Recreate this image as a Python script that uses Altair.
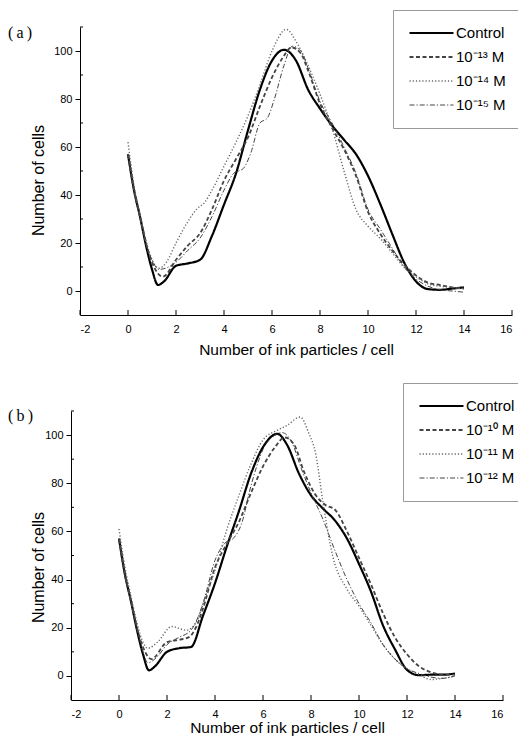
import altair as alt
import pandas as pd

# ---------------- data ----------------
# Panel (a)
A_CTRL_X = [0, 0.25, 0.5, 0.75, 1.0, 1.25, 1.5, 2.0, 2.5, 3.0, 3.5, 4.0, 4.5, 5.0, 5.5, 6.0, 6.5, 7.0, 7.5, 8.0, 8.5, 9.0, 9.5, 10.0, 10.5, 11.0, 11.5, 12.0, 12.5, 13.0, 13.5, 14.0]
A_CTRL_Y = [57, 42, 31, 19, 9, 2.5, 4, 10.5, 11.5, 13, 23, 36, 49, 67, 84, 96, 100.5, 96, 84, 76, 69, 63, 57, 48, 36.5, 24, 12, 4, 0.8, 0.5, 1, 1.5]

A_13_X = [0, 0.25, 0.5, 0.75, 1.0, 1.45, 2.0, 2.5, 3.0, 3.5, 4.0, 4.5, 5.0, 5.5, 6.0, 6.5, 6.8, 7.2, 7.5, 8.0, 8.5, 9.0, 9.5, 10.0, 10.5, 11.0, 11.5, 12.0, 12.5, 13.0, 13.5, 14.0]
A_13_Y = [57, 42, 31, 20, 12, 6, 13, 19, 24, 34, 46, 55, 64, 77, 89, 98, 101.5, 99, 92, 78, 68, 59, 48, 33, 24, 17, 11, 6.5, 3.5, 2.5, 1.5, 1]

A_14_X = [0, 0.25, 0.5, 0.75, 1.0, 1.3, 1.6, 2.0, 2.5, 2.85, 3.2, 3.5, 4.0, 4.5, 5.0, 5.5, 6.0, 6.6, 7.0, 7.5, 8.0, 8.5, 9.0, 9.5, 10.0, 10.5, 11.0, 11.5, 12.0, 12.5, 13.0, 13.5, 14.0]
A_14_Y = [62, 44, 32, 21, 13, 9.5, 12, 20, 29, 34, 37, 42, 52, 62, 73, 86, 100, 109, 104, 94, 82, 68, 50, 34, 27, 22, 16, 10, 6, 3, 2, 1.5, 1]

A_15_X = [0, 0.25, 0.5, 0.75, 1.0, 1.3, 2.0, 2.5, 3.0, 3.5, 4.0, 4.4, 4.8, 5.1, 5.5, 5.8, 6.1, 6.5, 6.85, 7.2, 7.5, 8.0, 8.5, 9.0, 9.5, 10.0, 10.5, 11.0, 11.5, 12.0, 12.5, 13.0, 13.5, 14.0]
A_15_Y = [57, 42, 31, 20, 13, 9, 12, 17, 22, 31, 42, 49, 51, 57, 70, 72, 80, 94, 102, 100, 93, 79, 70, 60, 49, 34, 26, 18, 10, 5, 2, 0.5, 0, -0.5]

# Panel (b)
B_CTRL_X = [0, 0.25, 0.5, 0.75, 1.0, 1.25, 1.5, 2.0, 2.5, 3.0, 3.5, 4.0, 4.5, 5.0, 5.5, 6.0, 6.6, 7.0, 7.5, 8.0, 8.5, 9.0, 9.5, 10.0, 10.5, 11.0, 11.5, 12.0, 12.5, 13.0, 13.5, 14.0]
B_CTRL_Y = [57, 42, 31, 19, 9, 2.3, 4, 10, 11.5, 12, 25, 38.5, 54, 68.5, 84, 95, 100.5, 96, 84, 75, 69.5, 64.5, 57, 46.5, 35, 21, 11, 2.5, 0.3, 0.5, 0.5, 1]

B_10_X = [0, 0.25, 0.5, 0.75, 1.0, 1.35, 2.0, 2.5, 2.9, 3.2, 3.5, 4.0, 4.5, 5.0, 5.5, 6.0, 6.5, 6.9, 7.3, 7.7, 8.2, 8.6, 9.0, 9.5, 10.0, 10.5, 11.0, 11.5, 12.0, 12.5, 13.0, 13.5, 14.0]
B_10_Y = [57, 42, 31, 20, 12, 7, 14, 15, 16, 20, 28, 45, 55, 64, 76, 87, 95, 99, 96, 85, 75, 71, 69, 60, 49, 38, 26, 16, 9, 4, 1.5, 0.5, 0.5]

B_11_X = [0, 0.25, 0.5, 0.75, 1.0, 1.2, 1.6, 2.2, 2.8, 3.2, 3.6, 4.0, 4.5, 5.0, 5.5, 6.0, 6.6, 7.0, 7.55, 7.9, 8.2, 8.5, 8.9, 9.5, 10.0, 10.5, 11.0, 11.5, 12.0, 12.5, 13.0, 13.5, 14.0]
B_11_Y = [61, 45, 33, 22, 14, 11.5, 14, 20.5, 19, 22, 33, 44, 61, 75, 88, 98, 102, 104, 107.5, 101, 92, 72, 50, 36, 29, 21, 13, 7, 3, 0.5, -1.5, -1, 0]

B_12_X = [0, 0.25, 0.5, 0.75, 1.0, 1.2, 1.6, 2.0, 2.5, 3.0, 3.5, 4.0, 4.4, 4.8, 5.1, 5.5, 6.0, 6.5, 6.8, 7.2, 7.6, 8.0, 8.5, 9.0, 9.5, 10.0, 10.5, 11.0, 11.5, 12.0, 12.5, 13.0, 13.5, 14.0]
B_12_Y = [57, 42, 31, 20, 10, 5.5, 8, 13, 16, 19, 30, 48, 55, 57.5, 63, 79, 94, 100, 101, 97, 86, 76, 65, 52, 40, 30, 22, 13, 7, 3, 1, -0.5, -1, 0]

SERIES_A = ["Control", "10\u207b\u00b9\u00b3 M", "10\u207b\u00b9\u2074 M", "10\u207b\u00b9\u2075 M"]
SERIES_B = ["Control", "10\u207b\u00b9\u2070 M", "10\u207b\u00b9\u00b9 M", "10\u207b\u00b9\u00b2 M"]

X_TICKS = [-2, 0, 2, 4, 6, 8, 10, 12, 14, 16]
Y_TICKS = [0, 20, 40, 60, 80, 100]
Y_MINOR = [10, 30, 50, 70, 90, 110]

X_TITLE = "Number of ink particles / cell"
Y_TITLE = "Number of cells"

# ---------------- styles ----------------
COLORS = ["#000000", "#444444", "#666666", "#444444"]
DASHES = [[1, 0], [4, 2.5], [1.2, 2], [5, 2, 1.2, 2]]
WIDTHS = [2.2, 1.0, 1.0, 1.0]
FONT = "Liberation Sans"


def make_df(xs_list, ys_list, names):
    frames = []
    for xs, ys, n in zip(xs_list, ys_list, names):
        frames.append(pd.DataFrame({"x": xs, "y": ys, "s": n}))
    return pd.concat(frames, ignore_index=True)


def panel(df, names, tag, w, h, shift, legend_x, legend_y, title_x, title_y,
          tag_y, x_title_pad):
    # shift: how many pixels this panel's plot is moved to the left
    xs = alt.Scale(domain=[-2, 16], nice=False, zero=False, range=[-shift, w - shift])
    ys = alt.Scale(domain=[-10, 110], nice=False, zero=False)
    leg = alt.Legend(
        title=None, orient="none", legendX=legend_x, legendY=legend_y,
        symbolType="stroke", symbolSize=1936, labelFont=FONT, labelFontSize=15,
        labelColor="black", labelOffset=1, padding=15, rowPadding=8,
        clipHeight=16, strokeColor="#999999", fillColor="white",
    )
    lines = alt.Chart(df).mark_line(interpolate="monotone").encode(
        x=alt.X("x:Q", scale=xs, axis=alt.Axis(
            values=X_TICKS, ticks=False, labelPadding=8, title=X_TITLE,
            titlePadding=x_title_pad, labelExpr="'' + datum.value", grid=False)),
        y=alt.Y("y:Q", scale=ys, axis=alt.Axis(
            values=Y_TICKS, tickSize=5, labelPadding=3, title=Y_TITLE, offset=shift,
            titleX=title_x, titleY=title_y, labelExpr="'' + datum.value", grid=False)),
        color=alt.Color("s:N", scale=alt.Scale(domain=names, range=COLORS), legend=leg),
        strokeDash=alt.StrokeDash("s:N", scale=alt.Scale(domain=names, range=DASHES), legend=leg),
        strokeWidth=alt.StrokeWidth("s:N", scale=alt.Scale(domain=names, range=WIDTHS), legend=leg),
    )
    xt = alt.Chart(pd.DataFrame({"x": X_TICKS})).mark_rule(color="black", strokeWidth=1).encode(
        x=alt.X("x:Q", scale=xs), y=alt.value(h), y2=alt.value(h - 5))
    yt = alt.Chart(pd.DataFrame({"y": Y_MINOR})).mark_rule(color="black", strokeWidth=1).encode(
        y=alt.Y("y:Q", scale=ys), x=alt.value(-shift), x2=alt.value(3 - shift))
    txt = alt.Chart(pd.DataFrame({"t": [tag]})).mark_text(
        font="Liberation Serif", fontSize=16, align="left", baseline="middle", color="black"
    ).encode(text="t:N", x=alt.value(-72), y=alt.value(tag_y))
    return alt.layer(lines, xt, yt, txt).properties(width=w, height=h)


df_a = make_df([A_CTRL_X, A_13_X, A_14_X, A_15_X], [A_CTRL_Y, A_13_Y, A_14_Y, A_15_Y], SERIES_A)
df_b = make_df([B_CTRL_X, B_10_X, B_11_X, B_12_X], [B_CTRL_Y, B_10_Y, B_11_Y, B_12_Y], SERIES_B)

pa = panel(df_a, SERIES_A, "(\u2009a\u2009)", 432, 288, 0, 313, -17, -34, 153, 6, 8)
pb = panel(df_b, SERIES_B, "(\u2009b\u2009)", 432, 289, 9, 323, -28, -25, 156, 5, 1)

chart = alt.vconcat(pa, pb, spacing=24).resolve_scale(
    color="independent", strokeDash="independent", strokeWidth="independent"
).properties(
    padding={"left": 0, "top": 1, "right": -13, "bottom": 0}
).configure_view(strokeWidth=0).configure_axis(
    domainColor="black", domainWidth=1, tickColor="black", labelColor="black",
    labelFont=FONT, labelFontSize=11, titleFont=FONT, titleFontSize=15.5,
    titleFontWeight="normal", titleColor="black"
).configure_axisY(titleFontSize=16)

chart.save("out.html", embed_options={"renderer": "svg", "actions": False})
